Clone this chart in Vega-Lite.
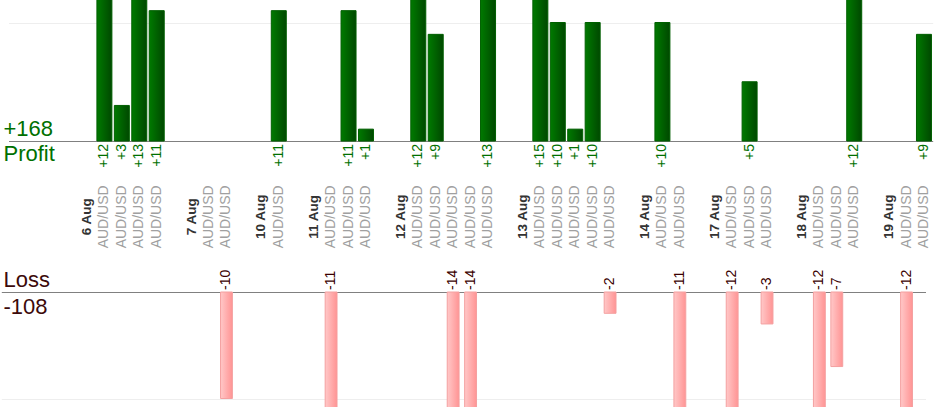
{
  "$schema": "https://vega.github.io/schema/vega-lite/v6.json",
  "width": 934,
  "height": 407,
  "autosize": "none",
  "padding": 0,
  "background": "white",
  "config": {"view": {"stroke": null}, "font": "Liberation Sans"},
  "datasets": {
    "trades": [
      {"day": "6 Aug", "trade": 1, "pair": "AUD/USD", "pl": 12},
      {"day": "6 Aug", "trade": 2, "pair": "AUD/USD", "pl": 3},
      {"day": "6 Aug", "trade": 3, "pair": "AUD/USD", "pl": 13},
      {"day": "6 Aug", "trade": 4, "pair": "AUD/USD", "pl": 11},
      {"day": "7 Aug", "trade": 1, "pair": "AUD/USD", "pl": 0},
      {"day": "7 Aug", "trade": 2, "pair": "AUD/USD", "pl": -10},
      {"day": "10 Aug", "trade": 1, "pair": "AUD/USD", "pl": 11},
      {"day": "11 Aug", "trade": 1, "pair": "AUD/USD", "pl": -11},
      {"day": "11 Aug", "trade": 2, "pair": "AUD/USD", "pl": 11},
      {"day": "11 Aug", "trade": 3, "pair": "AUD/USD", "pl": 1},
      {"day": "12 Aug", "trade": 1, "pair": "AUD/USD", "pl": 12},
      {"day": "12 Aug", "trade": 2, "pair": "AUD/USD", "pl": 9},
      {"day": "12 Aug", "trade": 3, "pair": "AUD/USD", "pl": -14},
      {"day": "12 Aug", "trade": 4, "pair": "AUD/USD", "pl": -14},
      {"day": "12 Aug", "trade": 5, "pair": "AUD/USD", "pl": 13},
      {"day": "13 Aug", "trade": 1, "pair": "AUD/USD", "pl": 15},
      {"day": "13 Aug", "trade": 2, "pair": "AUD/USD", "pl": 10},
      {"day": "13 Aug", "trade": 3, "pair": "AUD/USD", "pl": 1},
      {"day": "13 Aug", "trade": 4, "pair": "AUD/USD", "pl": 10},
      {"day": "13 Aug", "trade": 5, "pair": "AUD/USD", "pl": -2},
      {"day": "14 Aug", "trade": 1, "pair": "AUD/USD", "pl": 10},
      {"day": "14 Aug", "trade": 2, "pair": "AUD/USD", "pl": -11},
      {"day": "17 Aug", "trade": 1, "pair": "AUD/USD", "pl": -12},
      {"day": "17 Aug", "trade": 2, "pair": "AUD/USD", "pl": 5},
      {"day": "17 Aug", "trade": 3, "pair": "AUD/USD", "pl": -3},
      {"day": "18 Aug", "trade": 1, "pair": "AUD/USD", "pl": -12},
      {"day": "18 Aug", "trade": 2, "pair": "AUD/USD", "pl": -7},
      {"day": "18 Aug", "trade": 3, "pair": "AUD/USD", "pl": 12},
      {"day": "19 Aug", "trade": 1, "pair": "AUD/USD", "pl": -12},
      {"day": "19 Aug", "trade": 2, "pair": "AUD/USD", "pl": 9}
    ],
    "days": [
      {"day": "6 Aug"}, {"day": "7 Aug"}, {"day": "10 Aug"}, {"day": "11 Aug"},
      {"day": "12 Aug"}, {"day": "13 Aug"}, {"day": "14 Aug"}, {"day": "17 Aug"},
      {"day": "18 Aug"}, {"day": "19 Aug"}
    ]
  },
  "encoding": {
    "x": {
      "field": "key",
      "type": "nominal",
      "axis": null,
      "scale": {
        "domain": [
          "_a", "_b", "_c", "_d",
          "6 Aug", "6 Aug/1", "6 Aug/2", "6 Aug/3", "6 Aug/4", "_g1",
          "7 Aug", "7 Aug/1", "7 Aug/2", "_g2",
          "10 Aug", "10 Aug/1", "_g3",
          "11 Aug", "11 Aug/1", "11 Aug/2", "11 Aug/3", "_g4",
          "12 Aug", "12 Aug/1", "12 Aug/2", "12 Aug/3", "12 Aug/4", "12 Aug/5", "_g5",
          "13 Aug", "13 Aug/1", "13 Aug/2", "13 Aug/3", "13 Aug/4", "13 Aug/5", "_g6",
          "14 Aug", "14 Aug/1", "14 Aug/2", "_g7",
          "17 Aug", "17 Aug/1", "17 Aug/2", "17 Aug/3", "_g8",
          "18 Aug", "18 Aug/1", "18 Aug/2", "18 Aug/3", "_g9",
          "19 Aug", "19 Aug/1", "19 Aug/2"
        ],
        "range": [8.5, 932.7],
        "paddingInner": 0,
        "paddingOuter": 0
      }
    }
  },
  "layer": [
    {
      "layer": [
        {
          "data": {"name": "trades"},
          "transform": [
            {"filter": "datum.pl > 0"},
            {"calculate": "datum.day + '/' + datum.trade", "as": "key"}
          ],
          "mark": {
            "type": "bar",
            "clip": true,
            "width": {"band": 0.86},
            "stroke": "#005f00",
            "strokeWidth": 1,
            "fill": {
              "gradient": "linear",
              "x1": 0, "x2": 1, "y1": 0, "y2": 0,
              "stops": [
                {"offset": 0, "color": "#007a00"},
                {"offset": 1, "color": "#004800"}
              ]
            }
          },
          "encoding": {
            "y": {
              "field": "pl",
              "type": "quantitative",
              "scale": {"domain": [0, 10], "range": [141, 22.5], "nice": false},
              "axis": {
                "values": [0, 10],
                "grid": true,
                "gridColor": {"condition": {"test": "datum.value === 0", "value": "#808080"}, "value": "#eeeeee"},
                "labels": false,
                "ticks": false,
                "domain": false,
                "title": null
              }
            }
          }
        },
        {
          "data": {"name": "trades"},
          "transform": [
            {"filter": "datum.pl > 0"},
            {"calculate": "datum.day + '/' + datum.trade", "as": "key"},
            {"calculate": "'+' + datum.pl", "as": "label"}
          ],
          "mark": {"type": "text", "angle": 270, "align": "right", "baseline": "middle", "dx": -3, "fontSize": 14, "color": "#007000"},
          "encoding": {
            "y": {"datum": 0, "type": "quantitative"},
            "text": {"field": "label", "type": "nominal"}
          }
        },
        {
          "data": {"name": "trades"},
          "transform": [
            {"calculate": "datum.day + '/' + datum.trade", "as": "key"}
          ],
          "mark": {"type": "text", "angle": 270, "align": "center", "baseline": "middle", "fontSize": 14, "color": "#a0a0a0"},
          "encoding": {
            "y": {"datum": -6.4, "type": "quantitative"},
            "text": {"field": "pair", "type": "nominal"}
          }
        },
        {
          "data": {"name": "days"},
          "transform": [
            {"calculate": "datum.day", "as": "key"}
          ],
          "mark": {"type": "text", "angle": 270, "align": "center", "baseline": "middle", "fontSize": 13.5, "fontWeight": "bold", "color": "#333333"},
          "encoding": {
            "y": {"datum": -6.4, "type": "quantitative"},
            "text": {"field": "day", "type": "nominal"}
          }
        },
        {
          "data": {"name": "trades"},
          "transform": [
            {"filter": "datum.pl > 0"},
            {"aggregate": [{"op": "sum", "field": "pl", "as": "total"}]},
            {"calculate": "'+' + datum.total", "as": "label"}
          ],
          "mark": {"type": "text", "align": "left", "baseline": "alphabetic", "dx": -5, "dy": -5, "fontSize": 22, "color": "#007000"},
          "encoding": {
            "x": {"datum": "_a", "bandPosition": 0},
            "y": {"datum": 0, "type": "quantitative"},
            "text": {"field": "label", "type": "nominal"}
          }
        },
        {
          "data": {"name": "trades"},
          "transform": [
            {"filter": "datum.pl > 0"},
            {"aggregate": [{"op": "sum", "field": "pl", "as": "total"}]}
          ],
          "mark": {"type": "text", "text": "Profit", "align": "left", "baseline": "alphabetic", "dx": -5, "dy": 20, "fontSize": 22, "color": "#007000"},
          "encoding": {
            "x": {"datum": "_a", "bandPosition": 0},
            "y": {"datum": 0, "type": "quantitative"}
          }
        }
      ]
    },
    {
      "layer": [
        {
          "data": {"name": "trades"},
          "transform": [
            {"filter": "datum.pl < 0"},
            {"calculate": "datum.day + '/' + datum.trade", "as": "key"}
          ],
          "mark": {
            "type": "bar",
            "clip": true,
            "width": {"band": 0.68},
            "stroke": "#f4a0a0",
            "strokeWidth": 1,
            "fill": {
              "gradient": "linear",
              "x1": 0, "x2": 1, "y1": 0, "y2": 0,
              "stops": [
                {"offset": 0, "color": "#ffc8c8"},
                {"offset": 1, "color": "#ff9494"}
              ]
            }
          },
          "encoding": {
            "y": {
              "field": "pl",
              "type": "quantitative",
              "scale": {"domain": [0, -10], "range": [292, 398.5], "nice": false},
              "axis": {
                "values": [0, -10],
                "grid": true,
                "gridColor": {"condition": {"test": "datum.value === 0", "value": "#808080"}, "value": "#eeeeee"},
                "labels": false,
                "ticks": false,
                "domain": false,
                "title": null
              }
            }
          }
        },
        {
          "data": {"name": "trades"},
          "transform": [
            {"filter": "datum.pl < 0"},
            {"calculate": "datum.day + '/' + datum.trade", "as": "key"},
            {"calculate": "'' + datum.pl", "as": "label"}
          ],
          "mark": {"type": "text", "angle": 270, "align": "left", "baseline": "middle", "dx": 2, "fontSize": 14, "color": "#3a0000"},
          "encoding": {
            "y": {"datum": 0, "type": "quantitative"},
            "text": {"field": "label", "type": "nominal"}
          }
        },
        {
          "data": {"name": "trades"},
          "transform": [
            {"filter": "datum.pl < 0"},
            {"aggregate": [{"op": "sum", "field": "pl", "as": "total"}]},
            {"calculate": "'' + datum.total", "as": "label"}
          ],
          "mark": {"type": "text", "align": "left", "baseline": "alphabetic", "dx": -5, "dy": 22, "fontSize": 22, "color": "#3c0a0a"},
          "encoding": {
            "x": {"datum": "_a", "bandPosition": 0},
            "y": {"datum": 0, "type": "quantitative"},
            "text": {"field": "label", "type": "nominal"}
          }
        },
        {
          "data": {"name": "trades"},
          "transform": [
            {"filter": "datum.pl < 0"},
            {"aggregate": [{"op": "sum", "field": "pl", "as": "total"}]}
          ],
          "mark": {"type": "text", "text": "Loss", "align": "left", "baseline": "alphabetic", "dx": -5, "dy": -5, "fontSize": 22, "color": "#3c0a0a"},
          "encoding": {
            "x": {"datum": "_a", "bandPosition": 0},
            "y": {"datum": 0, "type": "quantitative"}
          }
        }
      ]
    }
  ],
  "resolve": {"scale": {"y": "independent"}}
}
